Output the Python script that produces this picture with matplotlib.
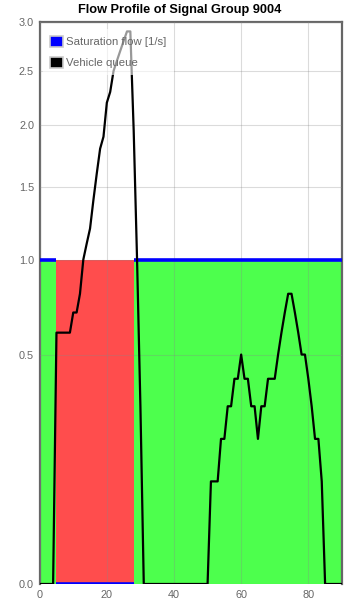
import numpy as np
import matplotlib
matplotlib.use('Agg')
import matplotlib.pyplot as plt
from matplotlib.patches import Patch

plt.rcParams['font.family'] = ['Liberation Sans', 'DejaVu Sans']

# signal phases (s)
green_phases = [(0, 5), (28, 90)]
red_phases = [(5, 28)]
sat_flow = 1.0

# vehicle queue over time
t = [0, 4, 5, 9, 10, 11, 12, 13, 14, 15, 16, 17, 18, 19, 20, 21, 22, 23, 24, 25, 26, 27,
     28, 29, 30, 31, 50, 51, 53, 54, 55, 56, 57, 58, 59, 60, 61, 62, 63, 64, 65, 66, 67,
     68, 70, 71, 72, 73, 74, 75, 76, 77, 78, 79, 80, 81, 82, 83, 84, 85, 90]
queue = [0, 0, 0.6, 0.6, 0.7, 0.7, 0.8, 1.0, 1.1, 1.2, 1.4, 1.6, 1.8, 1.9, 2.2, 2.3, 2.5, 2.6,
         2.7, 2.8, 2.9, 2.9, 1.95, 1.0, 0.3, 0, 0, 0.1, 0.1, 0.2, 0.2, 0.3, 0.3, 0.4, 0.4, 0.5,
         0.4, 0.4, 0.3, 0.3, 0.2, 0.3, 0.3, 0.4, 0.4, 0.5, 0.6, 0.7, 0.8, 0.8, 0.7, 0.6, 0.5,
         0.5, 0.4, 0.3, 0.2, 0.2, 0.1, 0, 0]

x_ticks = [0, 20, 40, 60, 80]
y_ticks = [0.0, 0.5, 1.0, 1.5, 2.0, 2.5, 3.0]

fig = plt.figure(figsize=(3.45, 6.02), dpi=100)
ax = fig.add_axes([0.115, 0.0299, 0.876, 0.9336])
ax.set_yscale('function', functions=(lambda v: np.sqrt(np.clip(v, 0, None)), lambda v: v ** 2))

for a, b in green_phases:
    ax.fill_between([a, b], 0, sat_flow, color='#4dff4d', lw=0, zorder=1)
    ax.plot([a, b], [sat_flow, sat_flow], color='#0000ff', lw=2.6, solid_capstyle='butt', zorder=4)
for a, b in red_phases:
    ax.fill_between([a, b], 0, sat_flow, color='#ff4d4d', lw=0, zorder=1)
    ax.plot([a, b], [0, 0], color='#0000ff', lw=2.6, solid_capstyle='butt', zorder=4)

ax.plot(t, queue, color='black', lw=1.6, zorder=5)

ax.set_xlim(0, 90)
ax.set_ylim(0, 3.0)
ax.set_xticks(x_ticks)
ax.set_yticks(y_ticks)
ax.set_yticklabels([f'{v:.1f}' for v in y_ticks])
ax.grid(True, color='#888888', alpha=0.3, lw=0.8, zorder=2)
ax.set_axisbelow(False)
ax.tick_params(length=0, labelsize=7.8, labelcolor='#666666', pad=4)
for name, s in ax.spines.items():
    s.set_color('#666666')
    s.set_linewidth(1.6)
ax.spines['bottom'].set_visible(False)

handles = [Patch(facecolor='#0000ff', edgecolor='#cccccc', lw=1.2),
           Patch(facecolor='black', edgecolor='#cccccc', lw=1.2)]
leg = ax.legend(handles, ['Saturation flow [1/s]', 'Vehicle queue'], loc='upper left',
                bbox_to_anchor=(0.0, 0.994), frameon=True, fancybox=False,
                facecolor='white', edgecolor='none', framealpha=0.6,
                fontsize=8.2, labelcolor='#666666', handlelength=1.15,
                handleheight=1.15, handletextpad=0.3, labelspacing=0.85,
                borderpad=0.6, borderaxespad=0.3)
leg.set_zorder(6)

fig.text(0.52, 0.993, 'Flow Profile of Signal Group 9004', fontsize=9.2, fontweight='bold',
         ha='center', va='top')

fig.savefig('out.png', dpi=100)
